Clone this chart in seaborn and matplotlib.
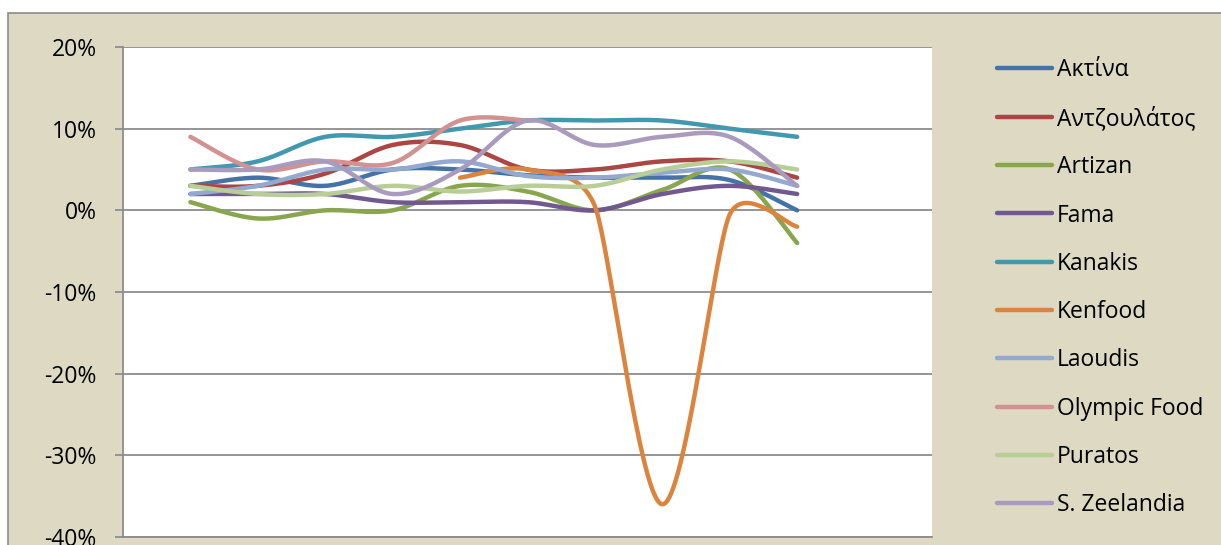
import numpy as np
import pandas as pd
import matplotlib
matplotlib.use("Agg")
import matplotlib.pyplot as plt
from matplotlib.patches import Rectangle
from matplotlib.lines import Line2D
from matplotlib.ticker import FuncFormatter
import seaborn as sns

nan = np.nan

# Category positions (periods) along the horizontal axis
periods = list(range(1, 11))

# Annual change per company, in percent
aktina      = [3, 4, 3, 5, 5, 4.3, 4, 4, 3.7, 0]
antzoulatos = [3, 3, 4.5, 8, 8, 5, 5, 6, 6, 4]
artizan     = [1, -1, 0, 0, 3, 2.3, 0, 2.5, 5, -4]
fama        = [2, 2, 2, 1, 1, 1, 0, 2, 3, 2]
kanakis     = [5, 6, 9, 9, 10, 11, 11, 11, 10, 9]
kenfood     = [nan, nan, nan, nan, 4, 5, 0.5, -36, -0.5, -2]
laoudis     = [2, 3, 5, 5, 6, 4.2, 4, 4.6, 5, 3]
olympic     = [9, 5, 6, 5.8, 11, 11, nan, nan, nan, nan]
puratos     = [3, 2, 2, 3, 2.3, 3, 3, 5, 6, 5]
zeelandia   = [5, 5, 6, 2, 5, 11, 8, 9, 9, 3]

names = ["Ακτίνα", "Αντζουλάτος", "Artizan", "Fama", "Kanakis",
         "Kenfood", "Laoudis", "Olympic Food", "Puratos", "S. Zeelandia"]
series = [aktina, antzoulatos, artizan, fama, kanakis,
          kenfood, laoudis, olympic, puratos, zeelandia]
colors = ["#4572A7", "#AA4643", "#89A54E", "#71588F", "#4198AF",
          "#DB843D", "#93A9CF", "#D19392", "#B9CD96", "#A99BBD"]

ytick_values = [-40, -30, -20, -10, 0, 10, 20]

sns.set_theme(style="white")
plt.rcParams["font.family"] = ["Open Sans", "DejaVu Sans"]
plt.rcParams["axes.unicode_minus"] = False

W, H, DPI = 1221, 545, 100
LW = 3.2
fig = plt.figure(figsize=(W / DPI, H / DPI), dpi=DPI, facecolor="white")

# Chart area panel with a thin grey frame
fig.patches.append(Rectangle((8 / W, -0.2), 1.2, (H - 13) / H + 0.2,
                             transform=fig.transFigure, facecolor="#DDD9C3",
                             edgecolor="#8C8C8C", linewidth=1.2, zorder=-10))

ax = fig.add_axes([123 / W, 8 / H, (932 - 123) / W, (537 - 47) / H])
ax.set_facecolor("white")
ax.set_xlim(0, 12)
ax.set_ylim(-40, 20)

grid_c = "#8C8C8C"
ax.set_yticks(ytick_values)
ax.yaxis.set_major_formatter(FuncFormatter(lambda v, p: f"{v:.0f}%"))
ax.grid(axis="y", color=grid_c, linewidth=1.3)
ax.grid(axis="x", visible=False)
ax.set_xticks([])
for side in ("top", "right"):
    ax.spines[side].set_visible(False)
for side in ("left", "bottom"):
    ax.spines[side].set_color(grid_c)
    ax.spines[side].set_linewidth(1.3)
ax.tick_params(axis="y", direction="out", length=6, width=1.3, color=grid_c,
               pad=13, labelsize=16.5, labelcolor="black", left=True)


def smooth_run(xs, ys, n=40):
    """Bezier smoothing in display space with limited control arms."""
    pts = ax.transData.transform(np.column_stack([xs, ys]))
    m = len(pts)
    out = [pts[0]]
    ctrl = []
    for i in range(m):
        p0 = pts[i - 1] if i > 0 else pts[i]
        p1 = pts[i]
        p2 = pts[i + 1] if i < m - 1 else pts[i]
        d02 = np.hypot(*(p2 - p0))
        d01 = np.hypot(*(p1 - p0))
        d12 = np.hypot(*(p2 - p1))
        f = 1 / 6
        if d02 > 0:
            lims = [f]
            if d01 > 0:
                lims.append(0.5 * d01 / d02)
            if d12 > 0:
                lims.append(0.5 * d12 / d02)
            f = min(lims)
        ctrl.append((p1 - f * (p2 - p0), p1 + f * (p2 - p0)))
    t = np.linspace(0, 1, n)[1:, None]
    for i in range(m - 1):
        a, b = pts[i], pts[i + 1]
        c1, c2 = ctrl[i][1], ctrl[i + 1][0]
        seg = ((1 - t) ** 3) * a + 3 * ((1 - t) ** 2) * t * c1 \
            + 3 * (1 - t) * t ** 2 * c2 + t ** 3 * b
        out.extend(seg)
    return ax.transData.inverted().transform(np.array(out))


frames = []
for name, vals in zip(names, series):
    v = np.array(vals, dtype=float)
    x = np.array(periods, dtype=float)
    ok = ~np.isnan(v)
    curve = smooth_run(x[ok], v[ok])
    frames.append(pd.DataFrame({"x": curve[:, 0], "y": curve[:, 1],
                                "company": name}))
df = pd.concat(frames, ignore_index=True)

sns.lineplot(data=df, x="x", y="y", hue="company", hue_order=names,
             palette=colors, sort=False, estimator=None, units="company",
             linewidth=LW, legend=False, ax=ax,
             solid_capstyle="round", solid_joinstyle="round")
ax.set_xlabel("")
ax.set_ylabel("")
ax.set_xlim(0, 12)
ax.set_ylim(-40, 20)

handles = [Line2D([], [], color=c, linewidth=LW, solid_capstyle="round")
           for c in colors]
leg = fig.legend(handles, names, loc="upper left",
                 bbox_to_anchor=(997 / W, 1 - 58 / H), frameon=False,
                 fontsize=16.5, handlelength=2.4, handletextpad=0.2,
                 labelspacing=1.06, borderpad=0, borderaxespad=0)
for txt in leg.get_texts():
    txt.set_color("black")

fig.savefig("out.png", dpi=DPI, facecolor=fig.get_facecolor())
